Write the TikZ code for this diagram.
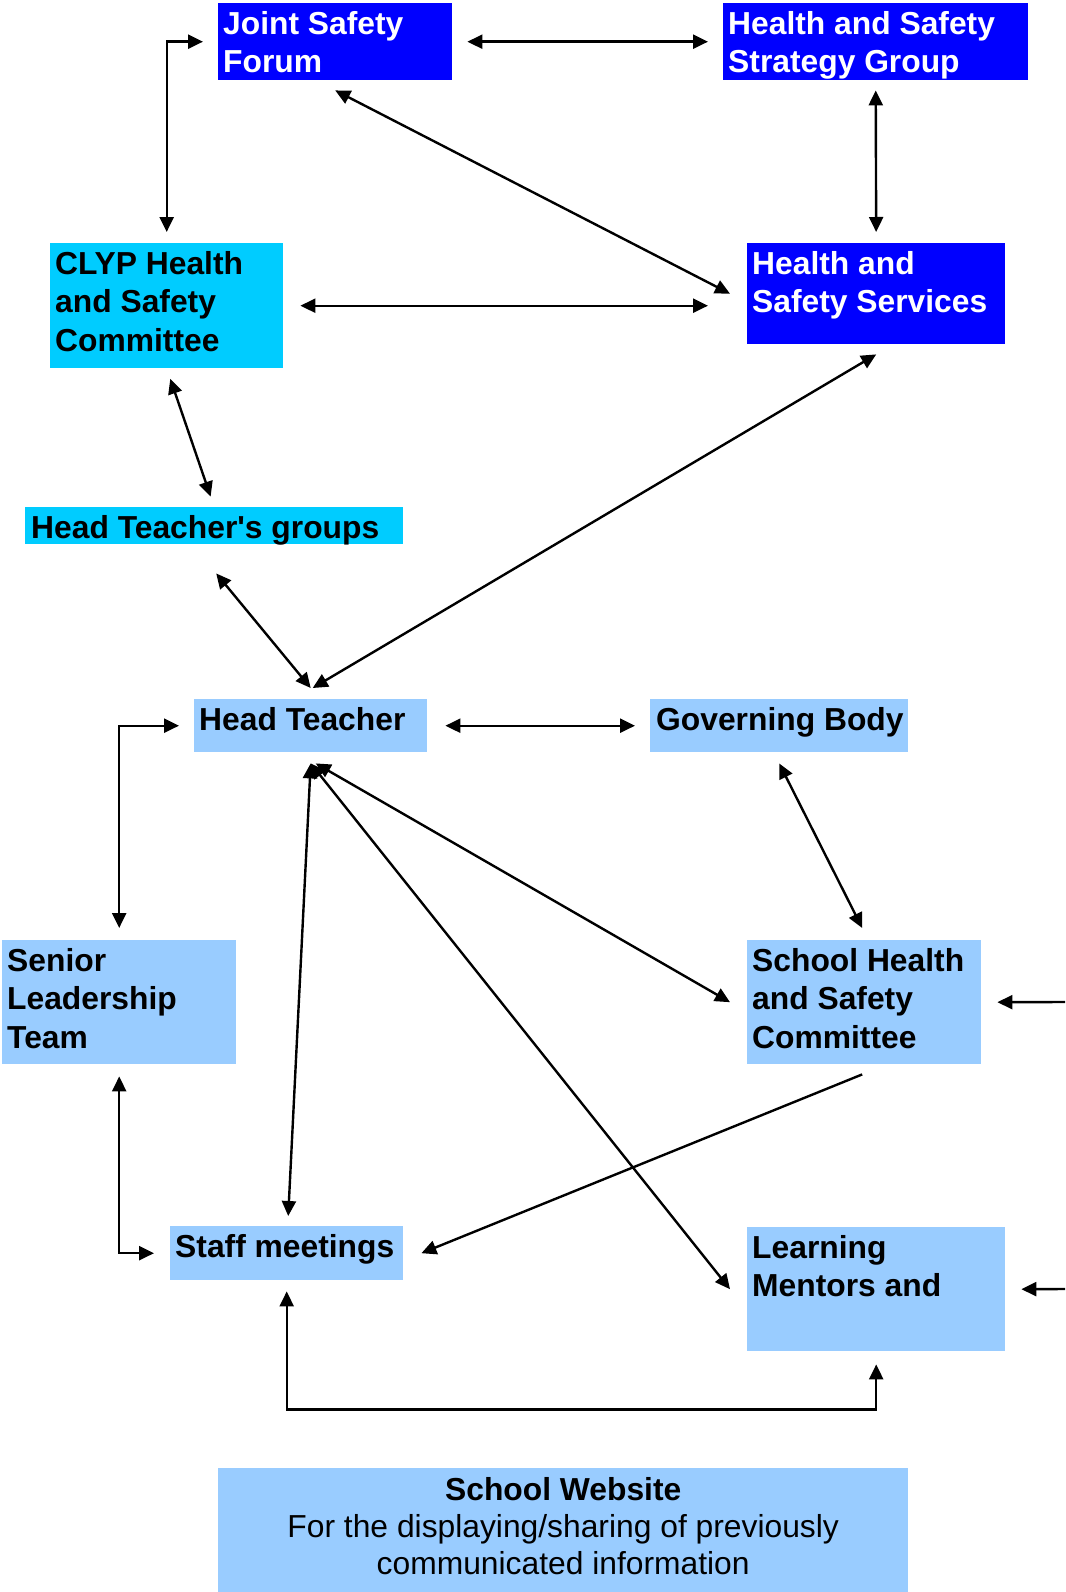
\documentclass[tikz,border=0pt]{standalone}
\usepackage{fontspec}
\setmainfont{Liberation Sans}
\usetikzlibrary{arrows.meta}
\definecolor{dblue}{RGB}{0,0,255}
\definecolor{cyanbox}{RGB}{0,204,255}
\definecolor{lblue}{RGB}{153,204,255}
\tikzset{
  box/.style={draw=none, inner sep=0pt, anchor=north west},
  txt/.style={inner sep=0pt, anchor=north west, align=left,
    font=\fontsize{31.8}{38.6}\selectfont\bfseries},
  conn/.style={line width=2.4pt, {Triangle[length=15pt,width=14pt]}-{Triangle[length=15pt,width=14pt]}},
  oneway/.style={line width=2.4pt, -{Triangle[length=15pt,width=14pt]}}
}
\begin{document}
\begin{tikzpicture}[x=1pt,y=-1pt]
\useasboundingbox (0,0) rectangle (1065,1592);
% boxes
\node[box, fill=dblue, minimum width=234pt, minimum height=77pt] (jsf) at (218,3) {};
\node[box, fill=dblue, minimum width=305pt, minimum height=77pt] (hssg) at (723,3) {};
\node[box, fill=cyanbox, minimum width=233pt, minimum height=125pt] (clyp) at (50,243) {};
\node[box, fill=dblue, minimum width=258pt, minimum height=101pt] (hss) at (747,243) {};
\node[box, fill=cyanbox, minimum width=378pt, minimum height=37pt] (htg) at (25,507) {};
\node[box, fill=lblue, minimum width=233pt, minimum height=53pt] (ht) at (194,699) {};
\node[box, fill=lblue, minimum width=258pt, minimum height=53pt] (gb) at (650,699) {};
\node[box, fill=lblue, minimum width=234pt, minimum height=124pt] (slt) at (2,940) {};
\node[box, fill=lblue, minimum width=234pt, minimum height=124pt] (shsc) at (747,940) {};
\node[box, fill=lblue, minimum width=233pt, minimum height=54pt] (staff) at (170,1226) {};
\node[box, fill=lblue, minimum width=258pt, minimum height=124pt] (lm) at (747,1227) {};
\node[box, fill=lblue, minimum width=690pt, minimum height=124pt] (sw) at (218,1468) {};
% texts
\node[txt, text=white] (jsft) at ([xshift=5pt,yshift=-4pt]jsf.north west) {\strut Joint Safety\\Forum};
\node[txt, text=white] (hssgt) at ([xshift=5pt,yshift=-4pt]hssg.north west) {\strut Health and Safety\\Strategy Group};
\node[txt] (clypt) at ([xshift=5pt,yshift=-4pt]clyp.north west) {\strut CLYP Health\\and Safety\\Committee};
\node[txt, text=white] (hsst) at ([xshift=5pt,yshift=-4pt]hss.north west) {\strut Health and\\Safety Services};
\node[txt] (htgt) at ([xshift=6pt,yshift=-4pt]htg.north west) {\strut Head Teacher\textquotesingle s groups};
\node[txt] (htt) at ([xshift=5pt,yshift=-4pt]ht.north west) {\strut Head Teacher};
\node[txt] (gbt) at ([xshift=6pt,yshift=-4pt]gb.north west) {\strut Governing Body};
\node[txt] (sltt) at ([xshift=5pt,yshift=-4pt]slt.north west) {\strut Senior\\Leadership\\Team};
\node[txt] (shsct) at ([xshift=5pt,yshift=-4pt]shsc.north west) {\strut School Health\\and Safety\\Committee};
\node[txt] (stafft) at ([xshift=5pt,yshift=-4pt]staff.north west) {\strut Staff meetings};
\node[txt] (lmt) at ([xshift=5pt,yshift=-4pt]lm.north west) {\strut Learning\\Mentors and};
\node[inner sep=0pt, anchor=north, align=center, font=\fontsize{31.8}{37}\selectfont] (swt)
  at ([yshift=-6pt]sw.north) {\strut\textbf{School Website}\\For the displaying/sharing of previously\\communicated information};
% connectors
\draw[conn, shorten <=15pt, shorten >=15pt] (jsf.east) -- (hssg.west);
\draw[conn] ([yshift=11pt]clyp.north) |- ([xshift=-15pt]jsf.west);
\draw[conn] ([yshift=-10pt]jsf.south) -- ([xshift=-17pt]hss.west);
\draw[conn, shorten <=10pt, shorten >=11pt] (hssg.south) -- (hss.north);
\draw[conn, shorten <=17pt, shorten >=39pt] (clyp.east) -- (clyp.east -| hss.west);
\draw[conn, shorten <=11pt, shorten >=11pt] (clyp.south) -- (htg.north);
\draw[conn] ([yshift=-10pt]hss.south) -- ([xshift=2pt,yshift=11pt]ht.north);
\draw[conn] ([xshift=2pt,yshift=-29pt]htg.south) -- ([yshift=11pt]ht.north);
\draw[conn] ([yshift=12pt]slt.north) |- ([xshift=-15pt]ht.west);
\draw[conn, shorten <=18pt, shorten >=15pt] (ht.east) -- (gb.west);
\draw[conn] ([yshift=-11pt]gb.south) -- ([xshift=-2pt,yshift=12pt]shsc.north);
\draw[conn] ([xshift=5pt,yshift=-11pt]ht.south) -- ([xshift=-17pt]shsc.west);
\draw[conn] ([yshift=-11pt]ht.south) -- ([xshift=1.5pt,yshift=10pt]staff.north);
\draw[conn] ([yshift=-11pt]ht.south) -- ([xshift=-17pt]lm.west);
\draw[oneway] ([xshift=-2pt,yshift=-10pt]shsc.south) -- ([xshift=18pt]staff.east);
\draw[conn] ([yshift=-12pt]slt.south) |- ([xshift=-16pt]staff.west);
\draw[conn] ([yshift=-11pt]staff.south) -- ([yshift=-129pt]staff.south) -| ([yshift=-13pt]lm.south);
\coordinate (rin1) at (1065,1002);
\coordinate (rin2) at (1065,1289);
\draw[oneway] (rin1) -- ([xshift=16pt]shsc.east);
\draw[oneway] (rin2) -- ([xshift=16pt]lm.east);
\end{tikzpicture}
\end{document}
